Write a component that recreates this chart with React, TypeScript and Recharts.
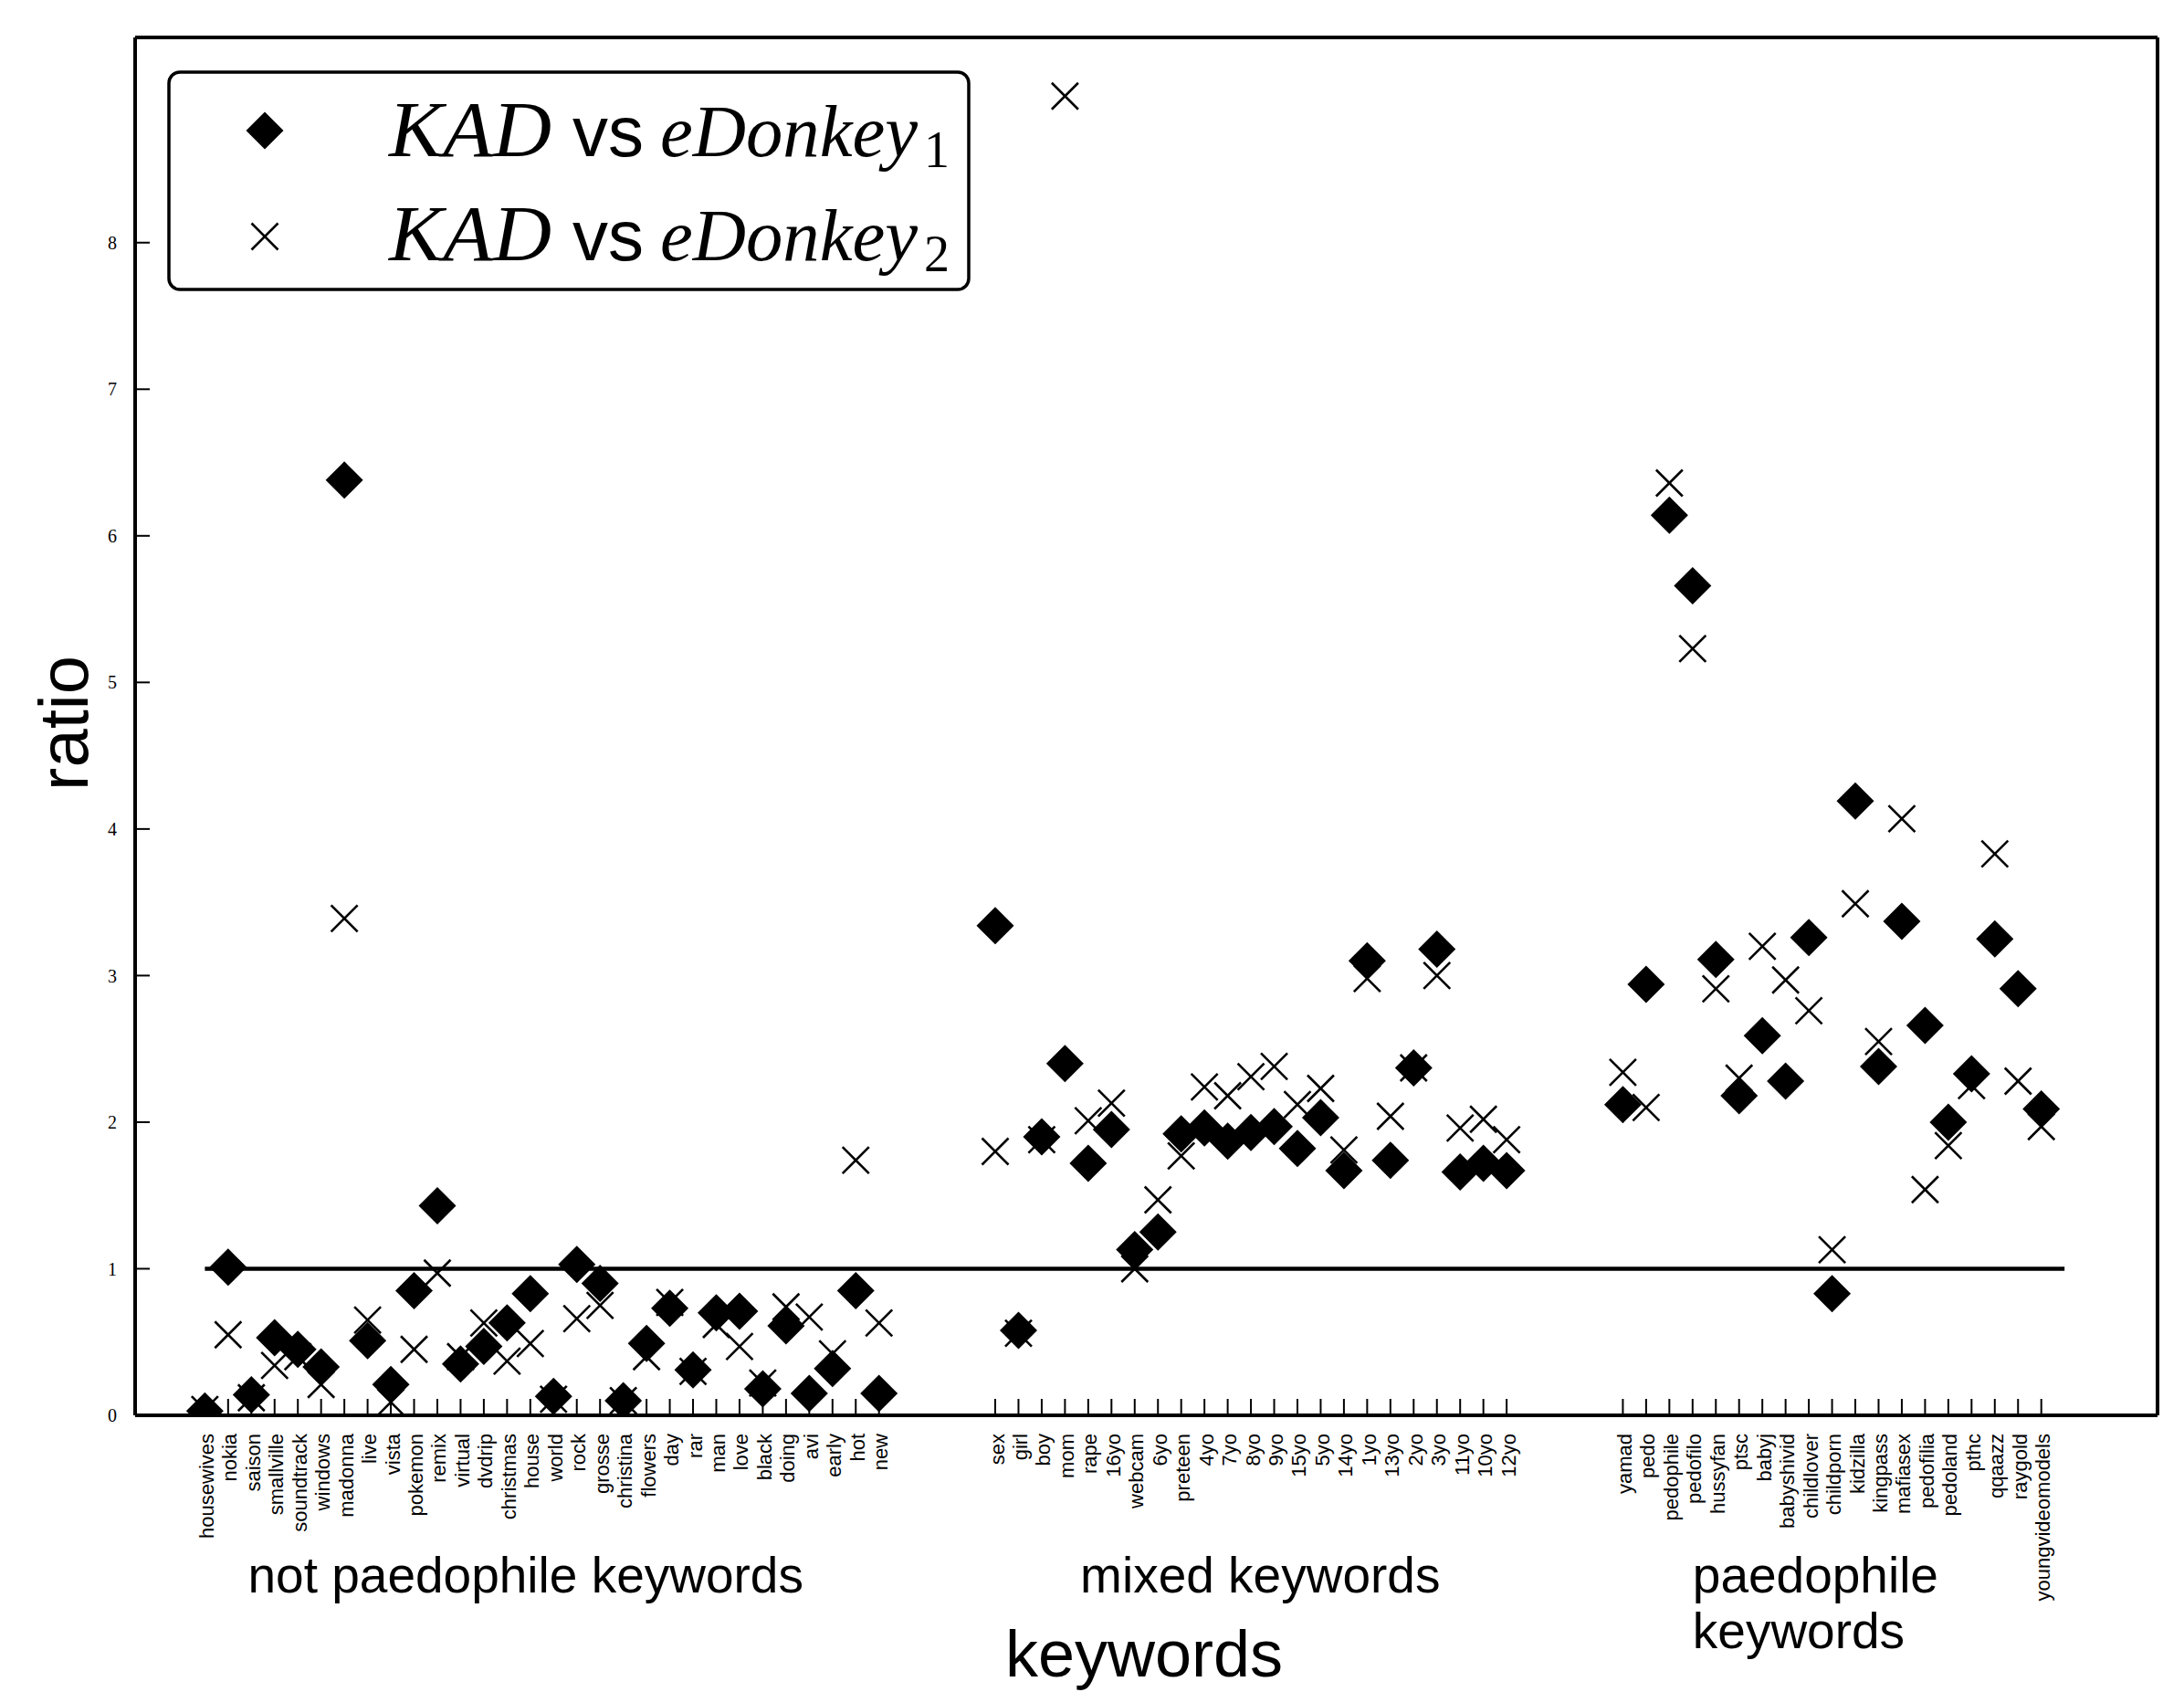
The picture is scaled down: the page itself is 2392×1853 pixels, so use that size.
import React from "react";
import { ScatterChart, Scatter, XAxis, YAxis, ReferenceLine, Legend, Label } from "recharts";

// keyword groups (ratio of hits)
const notPaedoKeywords = [
  "housewives", "nokia", "saison", "smallville", "soundtrack", "windows", "madonna", "live",
  "vista", "pokemon", "remix", "virtual", "dvdrip", "christmas", "house", "world", "rock",
  "grosse", "christina", "flowers", "day", "rar", "man", "love", "black", "doing", "avi",
  "early", "hot", "new",
];
const notPaedoVsED1 = [
  0.03, 1.01, 0.14, 0.53, 0.45, 0.33, 6.38, 0.51, 0.21, 0.85, 1.43, 0.35, 0.47, 0.63, 0.83,
  0.13, 1.03, 0.9, 0.1, 0.49, 0.73, 0.31, 0.7, 0.71, 0.18, 0.61, 0.15, 0.32, 0.85, 0.15,
];
const notPaedoVsED2 = [
  0.04, 0.55, 0.12, 0.34, 0.4, 0.21, 3.39, 0.65, 0.09, 0.45, 0.97, 0.4, 0.63, 0.37, 0.49,
  0.11, 0.66, 0.75, 0.1, 0.4, 0.77, 0.3, 0.62, 0.47, 0.22, 0.74, 0.67, 0.42, 1.74, 0.63,
];

const mixedKeywords = [
  "sex", "girl", "boy", "mom", "rape", "16yo", "webcam", "6yo", "preteen", "4yo", "7yo", "8yo",
  "9yo", "15yo", "5yo", "14yo", "1yo", "13yo", "2yo", "3yo", "11yo", "10yo", "12yo",
];
const mixedVsED1 = [
  3.34, 0.58, 1.9, 2.4, 1.72, 1.95, 1.13, 1.25, 1.92, 1.96, 1.87, 1.93, 1.97, 1.82, 2.03, 1.67,
  3.1, 1.74, 2.37, 3.18, 1.66, 1.72, 1.67,
];
const mixedVsED2 = [
  1.8, 0.56, 1.88, 9.0, 2.01, 2.13, 1.0, 1.47, 1.77, 2.24, 2.18, 2.31, 2.38, 2.12, 2.23, 1.81,
  2.98, 2.04, 2.37, 3.0, 1.96, 2.02, 1.88,
];

const paedoKeywords = [
  "yamad", "pedo", "pedophile", "pedofilo", "hussyfan", "ptsc", "babyj", "babyshivid",
  "childlover", "childporn", "kidzilla", "kingpass", "mafiasex", "pedofilia", "pedoland", "pthc",
  "qqaazz", "raygold", "youngvideomodels",
];
const paedoVsED1 = [
  2.12, 2.94, 6.14, 5.66, 3.11, 2.18, 2.59, 2.28, 3.26, 0.83, 4.19, 2.38, 3.37, 2.66, 2.0, 2.33,
  3.25, 2.91, 2.09,
];
const paedoVsED2 = [
  2.34, 2.1, 6.36, 5.23, 2.91, 2.3, 3.2, 2.97, 2.76, 1.13, 3.49, 2.55, 4.07, 1.54, 1.84, 2.25,
  3.83, 2.28, 1.97,
];

const groupStarts = [0, 34, 61];
const yTicks = [0, 1, 2, 3, 4, 5, 6, 7, 8];
const baseRatio = 1;

const SANS = "'Liberation Sans', Arial, Helvetica, sans-serif";
const SERIF = "'Liberation Serif', 'Times New Roman', serif";

const groups = [
  { keys: notPaedoKeywords, ed1: notPaedoVsED1, ed2: notPaedoVsED2, start: groupStarts[0] },
  { keys: mixedKeywords, ed1: mixedVsED1, ed2: mixedVsED2, start: groupStarts[1] },
  { keys: paedoKeywords, ed1: paedoVsED1, ed2: paedoVsED2, start: groupStarts[2] },
];

const keywordAt: Record<number, string> = {};
const ed1Points: { x: number; y: number }[] = [];
const ed2Points: { x: number; y: number }[] = [];
groups.forEach((g) =>
  g.keys.forEach((k, i) => {
    const x = g.start + i;
    keywordAt[x] = k;
    ed1Points.push({ x, y: g.ed1[i] });
    ed2Points.push({ x, y: g.ed2[i] });
  })
);
const xTicks = Object.keys(keywordAt).map(Number);
const lastX = xTicks[xTicks.length - 1];
const X_DOMAIN: [number, number] = [-3, 84];

const Diamond = ({ cx, cy, r = 20.5 }: any) => (
  <polygon
    points={`${cx},${cy - r} ${cx + r},${cy} ${cx},${cy + r} ${cx - r},${cy}`}
    fill="#000"
  />
);

const Cross = ({ cx, cy, r = 14.5 }: any) => (
  <g stroke="#000" strokeWidth={2.6}>
    <line x1={cx - r} y1={cy - r} x2={cx + r} y2={cy + r} />
    <line x1={cx - r} y1={cy + r} x2={cx + r} y2={cy - r} />
  </g>
);

const KeywordTick = ({ x, y, payload }: any) => (
  <text
    transform={`translate(${x + 2},${y + 38}) rotate(-90)`}
    textAnchor="end"
    dominantBaseline="central"
    fontSize={22}
    fontFamily={SANS}
    fill="#000"
  >
    {keywordAt[payload.value]}
  </text>
);

// group captions + axis title under the keyword ticks
const XCaptions = (props: any) => {
  const { x, width } = props.viewBox;
  const px = (v: number) => x + ((v - X_DOMAIN[0]) / (X_DOMAIN[1] - X_DOMAIN[0])) * width;
  return (
    <g fontFamily={SANS} fill="#000">
      <text x={px(13.8)} y={1744} fontSize={55} textAnchor="middle">
        not paedophile keywords
      </text>
      <text x={px(45.4)} y={1744} fontSize={55} textAnchor="middle">
        mixed keywords
      </text>
      <text x={px(64)} y={1744} fontSize={55}>
        paedophile
      </text>
      <text x={px(64)} y={1805} fontSize={55}>
        keywords
      </text>
      <text x={1253} y={1836} fontSize={72} textAnchor="middle">
        keywords
      </text>
    </g>
  );
};

const RatioTitle = () => (
  <text
    x={96}
    y={792}
    transform="rotate(-90 96 792)"
    textAnchor="middle"
    fontSize={76}
    fontFamily={SANS}
    fill="#000"
  >
    ratio
  </text>
);

const LegendRow = ({ y, sub }: { y: number; sub: string }) => (
  <g fill="#000">
    <text x={243} y={y} fontFamily={SERIF} fontStyle="italic" fontSize={86} textLength={178} lengthAdjust="spacingAndGlyphs">
      KAD
    </text>
    <text x={444} y={y} fontFamily={SANS} fontSize={78}>
      vs
    </text>
    <text x={540} y={y} fontFamily={SERIF} fontStyle="italic" fontSize={80} textLength={282} lengthAdjust="spacingAndGlyphs">
      eDonkey
    </text>
    <text x={829} y={y + 12} fontFamily={SERIF} fontSize={56}>
      {sub}
    </text>
  </g>
);

const LegendBox = () => (
  <svg width={880} height={242} style={{ display: "block" }}>
    <rect x={2} y={2} width={876} height={238} rx={12} fill="#fff" stroke="#000" strokeWidth={3.5} />
    <Diamond cx={107} cy={66} />
    <Cross cx={107} cy={182} />
    <LegendRow y={94} sub="1" />
    <LegendRow y={208} sub="2" />
  </svg>
);

export default function App() {
  return (
    <div style={{ position: "fixed", left: 0, top: 0, width: 2392, height: 1853, background: "#fff" }}>
      <ScatterChart width={2392} height={1853} margin={{ top: 40, right: 19, bottom: 273, left: 88 }}>
        <XAxis
          xAxisId="bottom"
          type="number"
          dataKey="x"
          domain={X_DOMAIN}
          allowDataOverflow
          ticks={xTicks}
          interval={0}
          height={30}
          tick={<KeywordTick />}
          tickSize={-18}
          tickMargin={0}
          tickLine={{ stroke: "#000", strokeWidth: 2 }}
          axisLine={{ stroke: "#000", strokeWidth: 4 }}
        >
          <Label content={XCaptions} />
        </XAxis>
        <XAxis
          xAxisId="top"
          orientation="top"
          type="number"
          domain={X_DOMAIN}
          allowDataOverflow
          height={1}
          tick={false}
          tickLine={false}
          axisLine={{ stroke: "#000", strokeWidth: 4 }}
        />
        <YAxis
          yAxisId="left"
          type="number"
          dataKey="y"
          domain={[0, 9.4]}
          allowDataOverflow
          ticks={yTicks}
          width={60}
          tickSize={-16}
          tickMargin={36}
          tick={{ fontSize: 20, fontFamily: SERIF, fill: "#000" }}
          tickLine={{ stroke: "#000", strokeWidth: 2 }}
          axisLine={{ stroke: "#000", strokeWidth: 4 }}
        >
          <Label content={RatioTitle} />
        </YAxis>
        <YAxis
          yAxisId="right"
          orientation="right"
          type="number"
          domain={[0, 9.4]}
          allowDataOverflow
          ticks={yTicks}
          width={10}
          tickSize={-16}
          tick={false}
          tickLine={{ stroke: "#000", strokeWidth: 2 }}
          axisLine={{ stroke: "#000", strokeWidth: 4 }}
        />
        <ReferenceLine
          xAxisId="bottom"
          yAxisId="left"
          segment={[
            { x: xTicks[0], y: baseRatio },
            { x: lastX + 1, y: baseRatio },
          ]}
          stroke="#000"
          strokeWidth={4.5}
        />
        <Scatter
          name="KAD vs eDonkey2"
          xAxisId="bottom"
          yAxisId="left"
          data={ed2Points}
          shape={(p: any) => <Cross cx={p.cx} cy={p.cy} />}
          isAnimationActive={false}
        />
        <Scatter
          name="KAD vs eDonkey1"
          xAxisId="bottom"
          yAxisId="left"
          data={ed1Points}
          shape={(p: any) => <Diamond cx={p.cx} cy={p.cy} />}
          isAnimationActive={false}
        />
        <Legend
          layout="vertical"
          align="center"
          verticalAlign="middle"
          content={LegendBox}
          wrapperStyle={{ left: 183, top: 77, width: 880, height: 242 }}
        />
      </ScatterChart>
    </div>
  );
}
